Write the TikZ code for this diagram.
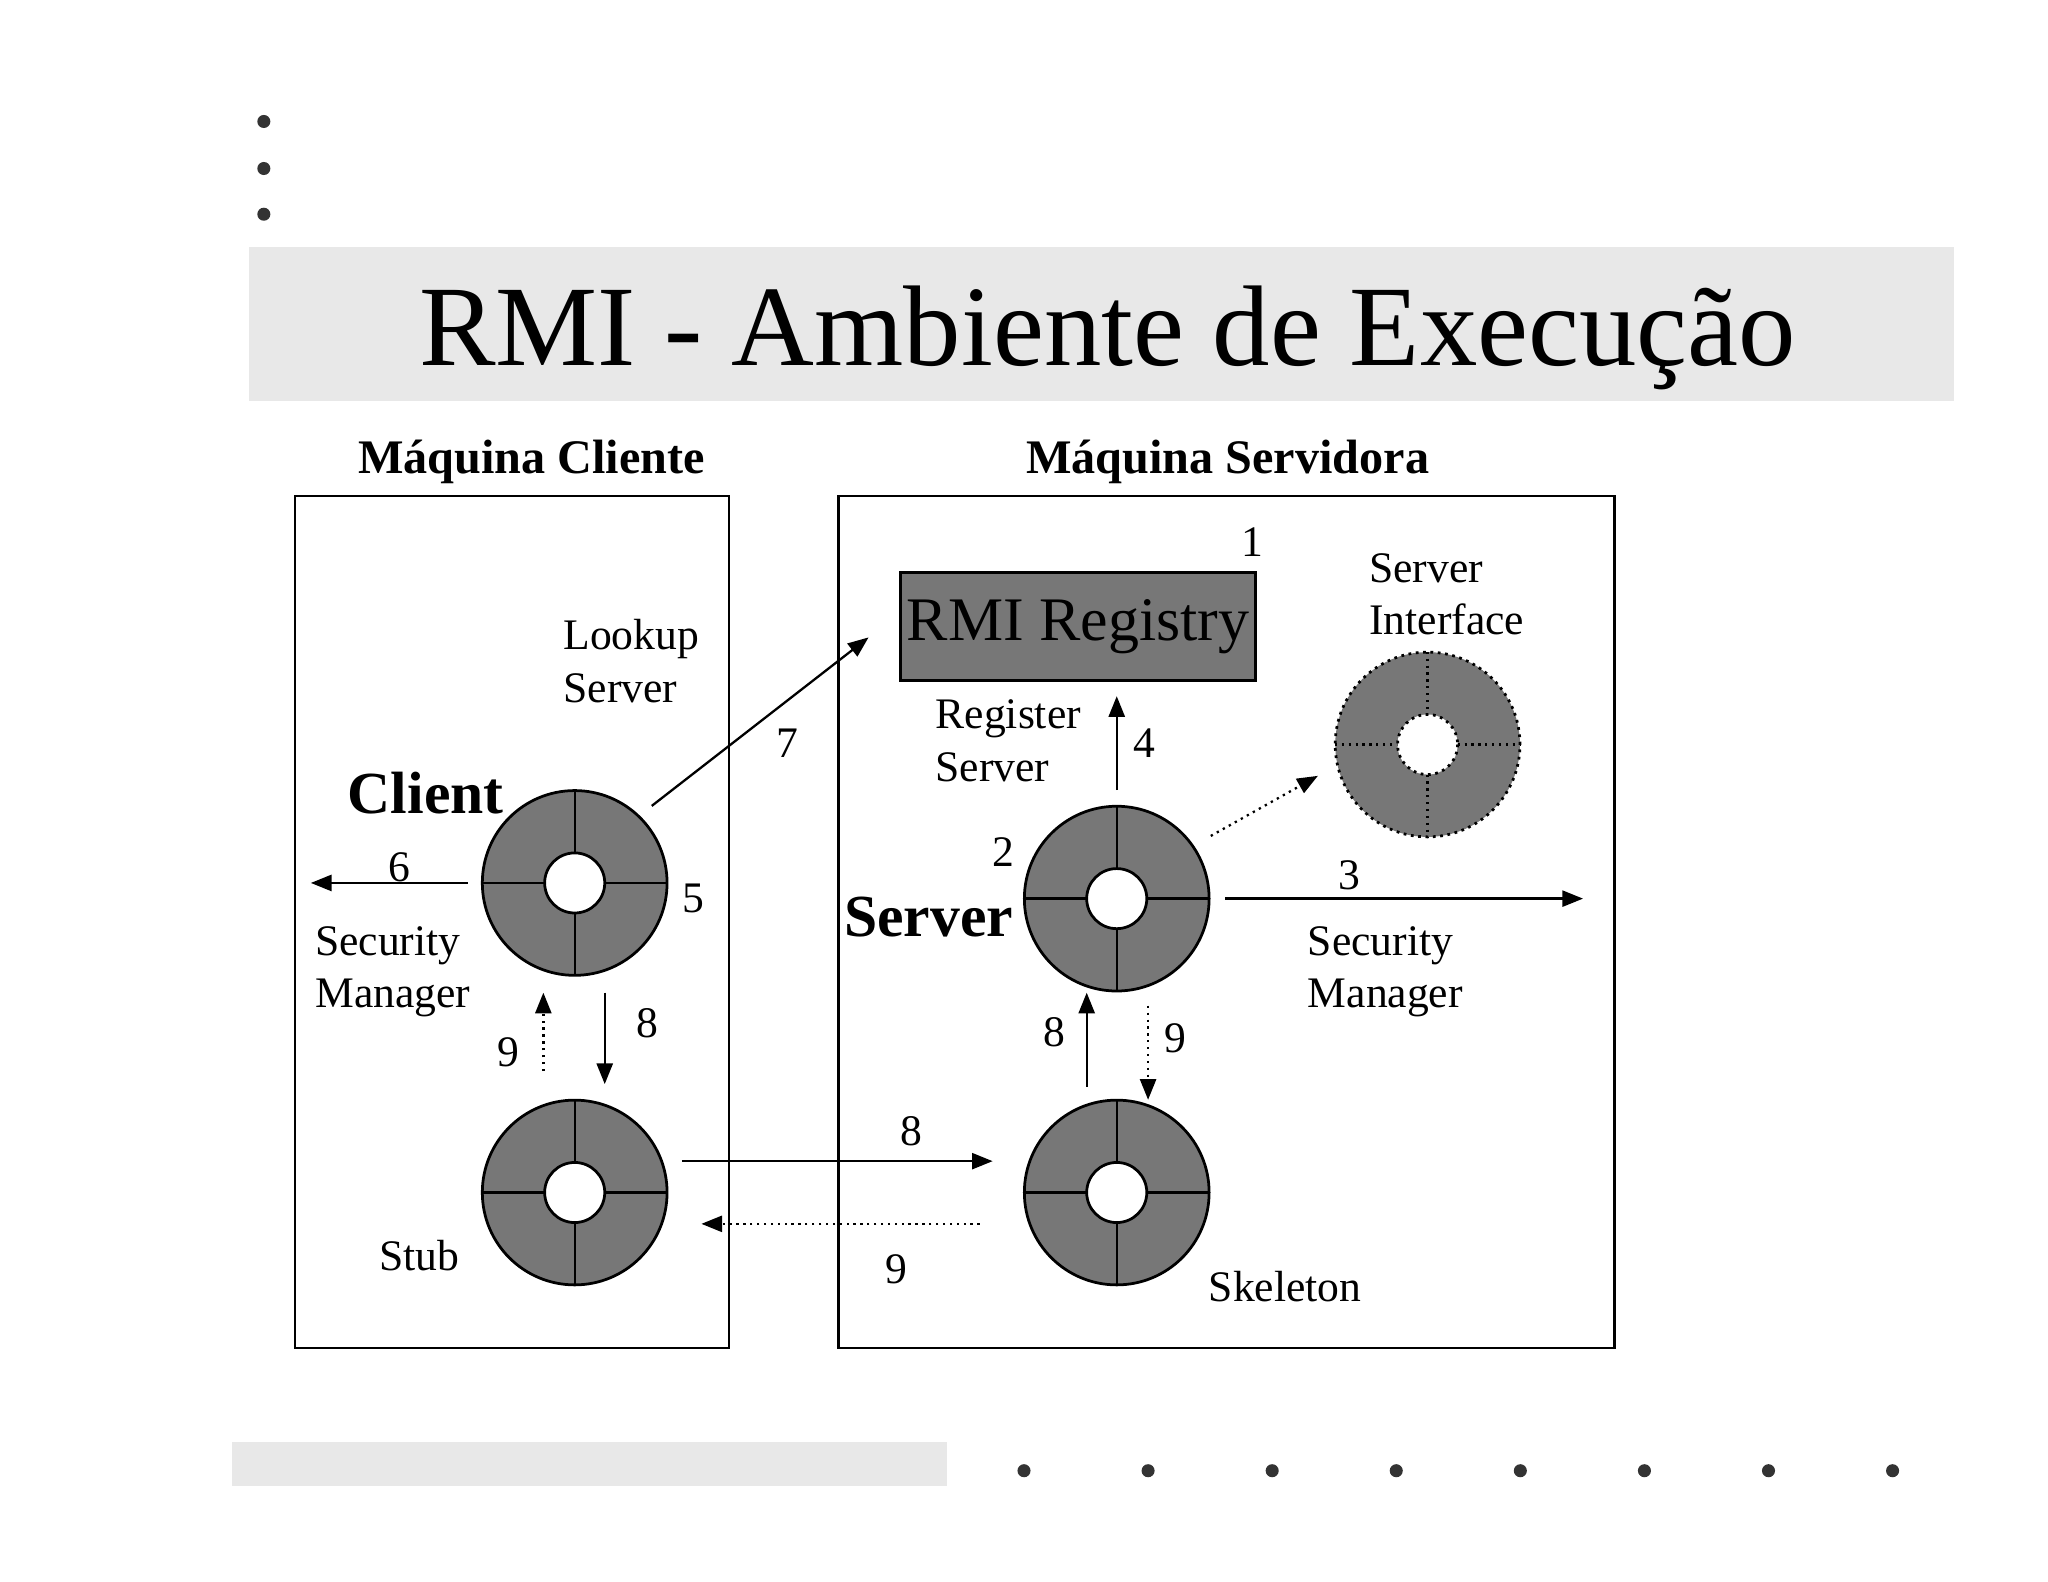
\documentclass[tikz,border=0pt]{standalone}
\usepackage{fontspec}
\setmainfont{Liberation Serif}
\usetikzlibrary{arrows.meta}
\definecolor{band}{HTML}{E8E8E8}
\definecolor{ringg}{HTML}{777777}
\newcommand\rmiring[4]{%
  \node[circle,draw,line width=1.2pt,fill=ringg,minimum size=142*0.567pt,inner sep=0pt,#4] (#1) at (#2,#3) {};
  \draw[line width=1pt,#4] (#2-71,#3)--(#2-23,#3) (#2+23,#3)--(#2+71,#3) (#2,#3-71)--(#2,#3-23) (#2,#3+23)--(#2,#3+71);
  \draw[line width=1.2pt,fill=white,#4] (#2,#3) circle (23);}
\tikzset{
  txt/.style={font=\fontsize{19}{23}\selectfont,inner sep=0pt},
  lbl/.style={txt,align=left},
  arr/.style={line width=1pt,-{Triangle[length=9pt,width=7pt]}},
  darr/.style={arr,dotted},
  box/.style={draw,line width=1pt}
}
\begin{document}
\begin{tikzpicture}[x=0.02cm,y=-0.02cm]
\useasboundingbox (0,0) rectangle (1568,1211);
\foreach \y in {93,129,164} \fill[black!80] (202,\y) circle (5);
\foreach \x in {784,879,974,1069,1164,1259,1354,1449} \fill[black!80] (\x,1126) circle (5);
\fill[band] (191,189) rectangle (1496,307);
\fill[band] (178,1104) rectangle (725,1138);
\node[inner sep=0pt,font=\fontsize{50}{58}\selectfont] (title) at (848,259) {RMI - Ambiente de Execução};
\node[txt,font=\fontsize{21}{25}\bfseries] (mc) at (407,354) {Máquina Cliente};
\node[txt,font=\fontsize{21}{25}\bfseries] (ms) at (940,354) {Máquina Servidora};
\draw[box] (226,380) rectangle (558,1032);
\draw[box] (642,380) rectangle (1236,1032);
\node[draw,line width=1.2pt,fill=ringg,minimum width=273*0.567pt,minimum height=83*0.567pt,inner sep=0pt,font=\fontsize{27}{30}\selectfont] (reg) at (825.5,479.5) {RMI Registry};
\rmiring{client}{440}{676}{}
\rmiring{stub}{440}{913}{}
\rmiring{server}{855}{688}{}
\rmiring{skel}{855}{913}{}
\rmiring{iface}{1093}{570}{dotted}
\node[lbl,anchor=west] (look) at (431,506) {Lookup\\Server};
\node[txt,font=\fontsize{26}{29}\bfseries] (cl) at (326,607) {Client};
\node[txt,font=\fontsize{26}{29}\bfseries] (sv) at (711,702) {Server};
\node[lbl,anchor=west] (sm1) at (241,744) {Security\\Manager};
\node[lbl,anchor=west] (sm2) at (1001,744) {Security\\Manager};
\node[txt] (stubl) at (321,961) {Stub};
\node[txt] (skell) at (984,985) {Skeleton};
\node[lbl,anchor=west] (rs) at (716,567) {Register\\Server};
\node[lbl,anchor=west] (si) at (1048,455) {Server\\Interface};
\foreach \t/\x/\y in {1/959/415,2/768/652,3/1033/670,4/876/569,5/531/688,6/306/664,7/603/569,8/496/783,9/389/806,8/698/866,9/686/972,8/807/790,9/900/795}
  \node[txt] at (\x,\y) {\t};
\coordinate (a7) at (665,488);
\draw[arr] (499,617) -- (a7);
\coordinate (a6) at (238,676);
\draw[arr] (358,676) -- (a6);
\draw[arr] (463,760) -- (463,830);
\draw[darr] (416,820) -- (416,760);
\draw[arr] (522,889) -- (760,889);
\draw[darr] (750,937) -- (537,937);
\draw[arr] (855,605) -- (855,533);
\draw[arr] (938,688) -- (1212,688);
\draw[darr] (927,640) -- (1009,594);
\draw[arr] (832,832) -- (832,760);
\draw[darr] (879,770) -- (879,842);
\end{tikzpicture}
\end{document}
